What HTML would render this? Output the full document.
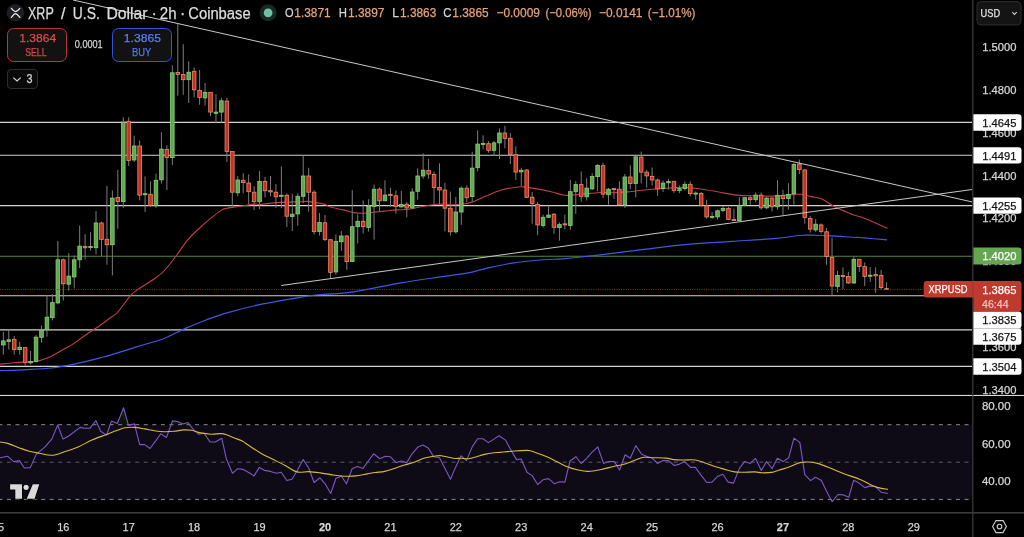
<!DOCTYPE html><html><head><meta charset="utf-8"><title>XRP / U.S. Dollar chart</title>
<style>html,body{margin:0;padding:0;background:#000;overflow:hidden;width:1024px;height:537px}svg{display:block}text{font-family:'Liberation Sans', Arial, sans-serif}</style>
</head><body>
<svg width="1024" height="537" viewBox="0 0 1024 537">
<rect x="0" y="0" width="1024" height="537" fill="#000"/>
<rect x="0" y="424.7" width="972" height="74.8" fill="#0e0b16"/>
<defs><linearGradient id="gob" x1="0" y1="0" x2="0" y2="1"><stop offset="0" stop-color="#0f2a12"/><stop offset="1" stop-color="#061208"/></linearGradient></defs>
<polygon points="92.6,424.7 95.8,420.5 97.7,424.7" fill="url(#gob)"/>
<polygon points="110.1,424.7 111.4,421.1 117.3,423.5 123.6,407.8 128.3,424.7" fill="url(#gob)"/>
<polygon points="131.3,424.7 134.4,423.9 134.6,424.7" fill="url(#gob)"/>
<polygon points="171.1,424.7 172.5,420.9 177.4,421.5 182.7,424.0 188.0,422.5 189.7,424.7" fill="url(#gob)"/>
<polygon points="830.9,499.4 832.1,501.7 834.0,499.4" fill="#1e0a0c"/>
<line x1="0" y1="424.7" x2="972" y2="424.7" stroke="#8a8a8a" stroke-width="1" stroke-dasharray="4 4.55" stroke-dashoffset="1.6"/>
<line x1="0" y1="462.2" x2="972" y2="462.2" stroke="#5a5a60" stroke-width="1" stroke-dasharray="4 4.55" stroke-dashoffset="1.6"/>
<line x1="0" y1="499.4" x2="972" y2="499.4" stroke="#8a8a8a" stroke-width="1" stroke-dasharray="4 4.55" stroke-dashoffset="1.6"/>
<line x1="0" y1="122.4" x2="972" y2="122.4" stroke="#d2d2d2" stroke-width="1.1"/>
<line x1="0" y1="155.3" x2="972" y2="155.3" stroke="#d2d2d2" stroke-width="1.1"/>
<line x1="0" y1="205.6" x2="972" y2="205.6" stroke="#d2d2d2" stroke-width="1.1"/>
<line x1="0" y1="295.8" x2="972" y2="295.8" stroke="#d2d2d2" stroke-width="1.1"/>
<line x1="0" y1="329.9" x2="972" y2="329.9" stroke="#d2d2d2" stroke-width="1.1"/>
<line x1="0" y1="366.4" x2="972" y2="366.4" stroke="#d2d2d2" stroke-width="1.1"/>
<line x1="0" y1="256.2" x2="972" y2="256.2" stroke="#4f8a3c" stroke-width="1.1"/>
<path d="M0.00,364.20 C2.28,363.97 9.83,363.15 13.70,362.80 C17.57,362.45 19.78,362.28 23.20,362.10 C26.62,361.92 31.23,362.03 34.20,361.70 C37.17,361.37 38.27,360.93 41.00,360.10 C43.73,359.27 47.18,358.30 50.60,356.70 C54.02,355.10 57.85,352.55 61.50,350.50 C65.15,348.45 69.08,346.57 72.50,344.40 C75.92,342.23 78.58,339.90 82.00,337.50 C85.42,335.10 90.00,332.00 93.00,330.00 C96.00,328.00 97.17,327.50 100.00,325.50 C102.83,323.50 107.03,320.25 110.00,318.00 C112.97,315.75 114.38,315.73 117.80,312.00 C121.22,308.27 127.12,299.40 130.50,295.60 C133.88,291.80 133.87,292.17 138.10,289.20 C142.33,286.23 151.43,281.00 155.90,277.80 C160.37,274.60 161.42,273.80 164.90,270.00 C168.38,266.20 172.97,260.05 176.80,255.00 C180.63,249.95 184.18,244.12 187.90,239.70 C191.62,235.28 195.37,232.00 199.10,228.50 C202.83,225.00 206.57,221.77 210.30,218.70 C214.03,215.63 218.72,211.83 221.50,210.10 C224.28,208.37 224.22,208.90 227.00,208.30 C229.78,207.70 233.53,207.20 238.20,206.50 C242.87,205.80 251.23,204.45 255.00,204.10 C258.77,203.75 256.77,204.68 260.80,204.40 C264.83,204.12 272.57,202.85 279.20,202.40 C285.83,201.95 296.02,201.87 300.60,201.70 C305.18,201.53 304.42,201.28 306.70,201.40 C308.98,201.52 311.25,201.90 314.30,202.40 C317.35,202.90 322.48,203.67 325.00,204.40 C327.52,205.13 326.37,205.88 329.40,206.80 C332.43,207.72 339.12,208.93 343.20,209.90 C347.28,210.87 350.33,212.05 353.90,212.60 C357.47,213.15 361.28,213.27 364.60,213.20 C367.92,213.13 370.50,212.55 373.80,212.20 C377.10,211.85 380.58,211.48 384.40,211.10 C388.22,210.72 392.63,210.20 396.70,209.90 C400.77,209.60 404.50,209.87 408.80,209.30 C413.10,208.73 417.67,207.35 422.50,206.50 C427.33,205.65 432.72,204.50 437.80,204.20 C442.88,203.90 448.42,204.77 453.00,204.70 C457.58,204.63 461.72,204.38 465.30,203.80 C468.88,203.22 470.93,202.53 474.50,201.20 C478.07,199.87 482.35,197.62 486.70,195.80 C491.05,193.98 495.75,191.73 500.60,190.30 C505.45,188.87 511.98,187.77 515.80,187.20 C519.62,186.63 520.43,186.70 523.50,186.90 C526.57,187.10 529.62,187.58 534.20,188.40 C538.78,189.22 545.92,190.67 551.00,191.80 C556.08,192.93 560.52,194.70 564.70,195.20 C568.88,195.70 571.65,195.12 576.10,194.80 C580.55,194.48 587.32,193.68 591.40,193.30 C595.48,192.92 597.03,192.58 600.60,192.50 C604.17,192.42 608.27,192.90 612.80,192.80 C617.33,192.70 622.25,192.42 627.80,191.90 C633.35,191.38 640.50,190.25 646.10,189.70 C651.70,189.15 654.92,188.98 661.40,188.60 C667.88,188.22 678.52,187.33 685.00,187.40 C691.48,187.47 694.70,188.23 700.30,189.00 C705.90,189.77 712.48,190.98 718.60,192.00 C724.72,193.02 730.63,194.47 737.00,195.10 C743.37,195.73 750.70,195.63 756.80,195.80 C762.90,195.97 767.58,196.30 773.60,196.10 C779.62,195.90 788.40,194.90 792.90,194.60 C797.40,194.30 797.53,193.97 800.60,194.30 C803.67,194.63 807.73,195.83 811.30,196.60 C814.87,197.37 818.18,197.25 822.00,198.90 C825.82,200.55 830.13,204.33 834.20,206.50 C838.27,208.67 843.13,210.48 846.40,211.90 C849.67,213.32 851.25,214.12 853.80,215.00 C856.35,215.88 857.33,215.55 861.70,217.20 C866.07,218.85 875.72,223.03 880.00,224.90 C884.28,226.77 886.17,227.82 887.40,228.40" fill="none" stroke="#c23f48" stroke-width="1.1"/>
<path d="M0.00,370.70 C4.55,370.52 18.63,370.05 27.30,369.60 C35.97,369.15 45.15,368.72 52.00,368.00 C58.85,367.28 62.48,366.43 68.40,365.30 C74.32,364.17 82.23,362.45 87.50,361.20 C92.77,359.95 96.35,358.78 100.00,357.80 C103.65,356.82 104.32,356.78 109.40,355.30 C114.48,353.82 125.40,350.50 130.50,348.90 C135.60,347.30 134.50,347.40 140.00,345.70 C145.50,344.00 156.20,341.47 163.50,338.70 C170.80,335.93 176.60,332.27 183.80,329.10 C191.00,325.93 199.50,322.42 206.70,319.70 C213.90,316.98 218.55,315.22 227.00,312.80 C235.45,310.38 246.40,307.57 257.40,305.20 C268.40,302.83 283.27,300.30 293.00,298.60 C302.73,296.90 306.30,296.05 315.80,295.00 C325.30,293.95 335.83,294.32 350.00,292.30 C364.17,290.28 385.98,285.43 400.80,282.90 C415.62,280.37 427.90,278.72 438.90,277.10 C449.90,275.48 458.77,274.68 466.80,273.20 C474.83,271.72 479.48,269.88 487.10,268.20 C494.72,266.52 503.62,264.47 512.50,263.10 C521.38,261.73 531.52,260.75 540.40,260.00 C549.28,259.25 557.33,259.30 565.80,258.60 C574.27,257.90 585.50,256.43 591.20,255.80 C596.90,255.17 591.20,255.87 600.00,254.80 C608.80,253.73 629.35,251.15 644.00,249.40 C658.65,247.65 673.27,245.63 687.90,244.30 C702.53,242.97 717.15,242.38 731.80,241.40 C746.45,240.42 764.57,239.38 775.80,238.40 C787.03,237.42 793.45,236.03 799.20,235.50 C804.95,234.97 806.38,235.20 810.30,235.20 C814.22,235.20 817.62,235.30 822.70,235.50 C827.78,235.70 836.42,236.15 840.80,236.40 C845.18,236.65 845.17,236.75 849.00,237.00 C852.83,237.25 857.45,237.42 863.80,237.90 C870.15,238.38 883.22,239.57 887.10,239.90" fill="none" stroke="#4157e3" stroke-width="1.2"/>
<rect x="2.83" y="331.9" width="1" height="22.8" fill="#7c7c7c"/>
<rect x="8.28" y="329.8" width="1" height="19.8" fill="#7c7c7c"/>
<rect x="13.73" y="336.0" width="1" height="18.7" fill="#7c7c7c"/>
<rect x="19.18" y="341.9" width="1" height="12.8" fill="#7c7c7c"/>
<rect x="24.64" y="347.6" width="1" height="18.1" fill="#7c7c7c"/>
<rect x="30.09" y="351.0" width="1" height="13.4" fill="#7c7c7c"/>
<rect x="35.54" y="335.1" width="1" height="27.3" fill="#7c7c7c"/>
<rect x="40.99" y="325.5" width="1" height="17.2" fill="#7c7c7c"/>
<rect x="46.44" y="295.2" width="1" height="41.3" fill="#7c7c7c"/>
<rect x="51.90" y="294.0" width="1" height="26.4" fill="#7c7c7c"/>
<rect x="57.35" y="241.0" width="1" height="63.4" fill="#7c7c7c"/>
<rect x="62.80" y="258.6" width="1" height="42.0" fill="#7c7c7c"/>
<rect x="68.25" y="253.2" width="1" height="37.4" fill="#7c7c7c"/>
<rect x="73.70" y="255.5" width="1" height="32.9" fill="#7c7c7c"/>
<rect x="79.16" y="225.5" width="1" height="42.5" fill="#7c7c7c"/>
<rect x="84.61" y="234.3" width="1" height="25.1" fill="#7c7c7c"/>
<rect x="90.06" y="232.2" width="1" height="18.4" fill="#7c7c7c"/>
<rect x="95.51" y="211.1" width="1" height="43.3" fill="#7c7c7c"/>
<rect x="100.96" y="221.8" width="1" height="34.2" fill="#7c7c7c"/>
<rect x="106.42" y="185.9" width="1" height="78.8" fill="#7c7c7c"/>
<rect x="111.87" y="190.5" width="1" height="84.9" fill="#7c7c7c"/>
<rect x="117.32" y="169.9" width="1" height="58.8" fill="#7c7c7c"/>
<rect x="122.77" y="117.2" width="1" height="90.6" fill="#7c7c7c"/>
<rect x="128.22" y="117.2" width="1" height="48.8" fill="#7c7c7c"/>
<rect x="133.68" y="135.6" width="1" height="26.4" fill="#7c7c7c"/>
<rect x="139.13" y="140.5" width="1" height="59.9" fill="#7c7c7c"/>
<rect x="144.58" y="176.3" width="1" height="35.6" fill="#7c7c7c"/>
<rect x="150.03" y="181.3" width="1" height="25.7" fill="#7c7c7c"/>
<rect x="155.48" y="173.7" width="1" height="34.1" fill="#7c7c7c"/>
<rect x="160.94" y="132.3" width="1" height="51.3" fill="#7c7c7c"/>
<rect x="166.39" y="145.3" width="1" height="44.7" fill="#7c7c7c"/>
<rect x="171.84" y="65.2" width="1" height="99.8" fill="#7c7c7c"/>
<rect x="177.29" y="24.0" width="1" height="71.7" fill="#7c7c7c"/>
<rect x="182.74" y="44.2" width="1" height="50.6" fill="#7c7c7c"/>
<rect x="188.20" y="61.2" width="1" height="41.8" fill="#7c7c7c"/>
<rect x="193.65" y="67.4" width="1" height="30.2" fill="#7c7c7c"/>
<rect x="199.10" y="70.0" width="1" height="34.8" fill="#7c7c7c"/>
<rect x="204.55" y="83.0" width="1" height="22.5" fill="#7c7c7c"/>
<rect x="210.00" y="92.3" width="1" height="23.8" fill="#7c7c7c"/>
<rect x="215.46" y="94.2" width="1" height="29.1" fill="#7c7c7c"/>
<rect x="220.91" y="97.8" width="1" height="24.7" fill="#7c7c7c"/>
<rect x="226.36" y="97.8" width="1" height="64.1" fill="#7c7c7c"/>
<rect x="231.81" y="151.5" width="1" height="54.8" fill="#7c7c7c"/>
<rect x="237.26" y="176.0" width="1" height="20.3" fill="#7c7c7c"/>
<rect x="242.72" y="173.2" width="1" height="20.1" fill="#7c7c7c"/>
<rect x="248.17" y="174.5" width="1" height="29.5" fill="#7c7c7c"/>
<rect x="253.62" y="186.1" width="1" height="24.0" fill="#7c7c7c"/>
<rect x="259.07" y="171.0" width="1" height="38.0" fill="#7c7c7c"/>
<rect x="264.52" y="176.9" width="1" height="20.5" fill="#7c7c7c"/>
<rect x="269.98" y="176.0" width="1" height="20.3" fill="#7c7c7c"/>
<rect x="275.43" y="184.1" width="1" height="23.7" fill="#7c7c7c"/>
<rect x="280.88" y="166.4" width="1" height="41.7" fill="#7c7c7c"/>
<rect x="286.33" y="193.3" width="1" height="33.6" fill="#7c7c7c"/>
<rect x="291.78" y="193.7" width="1" height="37.3" fill="#7c7c7c"/>
<rect x="297.24" y="193.3" width="1" height="32.5" fill="#7c7c7c"/>
<rect x="302.69" y="155.4" width="1" height="47.8" fill="#7c7c7c"/>
<rect x="308.14" y="167.8" width="1" height="43.8" fill="#7c7c7c"/>
<rect x="313.59" y="190.2" width="1" height="44.3" fill="#7c7c7c"/>
<rect x="319.04" y="213.0" width="1" height="22.6" fill="#7c7c7c"/>
<rect x="324.50" y="215.0" width="1" height="26.0" fill="#7c7c7c"/>
<rect x="329.95" y="239.7" width="1" height="38.7" fill="#7c7c7c"/>
<rect x="335.40" y="234.5" width="1" height="40.2" fill="#7c7c7c"/>
<rect x="340.85" y="231.1" width="1" height="19.6" fill="#7c7c7c"/>
<rect x="346.30" y="235.0" width="1" height="34.7" fill="#7c7c7c"/>
<rect x="351.76" y="190.2" width="1" height="71.8" fill="#7c7c7c"/>
<rect x="357.21" y="214.4" width="1" height="29.1" fill="#7c7c7c"/>
<rect x="362.66" y="200.4" width="1" height="33.1" fill="#7c7c7c"/>
<rect x="368.11" y="199.2" width="1" height="32.4" fill="#7c7c7c"/>
<rect x="373.56" y="184.4" width="1" height="55.2" fill="#7c7c7c"/>
<rect x="379.02" y="187.5" width="1" height="23.7" fill="#7c7c7c"/>
<rect x="384.47" y="180.3" width="1" height="20.7" fill="#7c7c7c"/>
<rect x="389.92" y="187.7" width="1" height="18.9" fill="#7c7c7c"/>
<rect x="395.37" y="190.5" width="1" height="23.2" fill="#7c7c7c"/>
<rect x="400.82" y="190.8" width="1" height="16.7" fill="#7c7c7c"/>
<rect x="406.28" y="202.0" width="1" height="15.3" fill="#7c7c7c"/>
<rect x="411.73" y="188.2" width="1" height="20.3" fill="#7c7c7c"/>
<rect x="417.18" y="168.3" width="1" height="31.4" fill="#7c7c7c"/>
<rect x="422.63" y="153.4" width="1" height="25.3" fill="#7c7c7c"/>
<rect x="428.08" y="158.9" width="1" height="19.8" fill="#7c7c7c"/>
<rect x="433.54" y="171.7" width="1" height="32.5" fill="#7c7c7c"/>
<rect x="438.99" y="163.4" width="1" height="40.8" fill="#7c7c7c"/>
<rect x="444.44" y="182.8" width="1" height="48.5" fill="#7c7c7c"/>
<rect x="449.89" y="191.6" width="1" height="43.9" fill="#7c7c7c"/>
<rect x="455.34" y="196.9" width="1" height="36.8" fill="#7c7c7c"/>
<rect x="460.80" y="186.4" width="1" height="38.4" fill="#7c7c7c"/>
<rect x="466.25" y="185.4" width="1" height="16.6" fill="#7c7c7c"/>
<rect x="471.70" y="151.8" width="1" height="50.2" fill="#7c7c7c"/>
<rect x="477.15" y="130.4" width="1" height="40.8" fill="#7c7c7c"/>
<rect x="482.60" y="135.3" width="1" height="14.0" fill="#7c7c7c"/>
<rect x="488.06" y="141.1" width="1" height="11.7" fill="#7c7c7c"/>
<rect x="493.51" y="141.0" width="1" height="14.9" fill="#7c7c7c"/>
<rect x="498.96" y="128.4" width="1" height="30.6" fill="#7c7c7c"/>
<rect x="504.41" y="125.8" width="1" height="22.5" fill="#7c7c7c"/>
<rect x="509.86" y="133.0" width="1" height="31.0" fill="#7c7c7c"/>
<rect x="515.32" y="146.3" width="1" height="33.6" fill="#7c7c7c"/>
<rect x="520.77" y="167.8" width="1" height="18.2" fill="#7c7c7c"/>
<rect x="526.22" y="169.0" width="1" height="29.0" fill="#7c7c7c"/>
<rect x="531.67" y="191.8" width="1" height="32.0" fill="#7c7c7c"/>
<rect x="537.12" y="202.0" width="1" height="33.3" fill="#7c7c7c"/>
<rect x="542.58" y="214.7" width="1" height="12.9" fill="#7c7c7c"/>
<rect x="548.03" y="205.5" width="1" height="12.5" fill="#7c7c7c"/>
<rect x="553.48" y="213.0" width="1" height="20.8" fill="#7c7c7c"/>
<rect x="558.93" y="222.3" width="1" height="18.3" fill="#7c7c7c"/>
<rect x="564.38" y="214.7" width="1" height="14.5" fill="#7c7c7c"/>
<rect x="569.84" y="180.0" width="1" height="49.9" fill="#7c7c7c"/>
<rect x="575.29" y="181.0" width="1" height="32.9" fill="#7c7c7c"/>
<rect x="580.74" y="171.4" width="1" height="30.3" fill="#7c7c7c"/>
<rect x="586.19" y="178.2" width="1" height="22.4" fill="#7c7c7c"/>
<rect x="591.64" y="173.2" width="1" height="17.0" fill="#7c7c7c"/>
<rect x="597.10" y="164.1" width="1" height="27.1" fill="#7c7c7c"/>
<rect x="602.55" y="162.6" width="1" height="35.6" fill="#7c7c7c"/>
<rect x="608.00" y="188.0" width="1" height="16.6" fill="#7c7c7c"/>
<rect x="613.45" y="188.0" width="1" height="10.9" fill="#7c7c7c"/>
<rect x="618.90" y="181.4" width="1" height="23.6" fill="#7c7c7c"/>
<rect x="624.36" y="174.0" width="1" height="34.0" fill="#7c7c7c"/>
<rect x="629.81" y="165.2" width="1" height="24.0" fill="#7c7c7c"/>
<rect x="635.26" y="156.5" width="1" height="40.8" fill="#7c7c7c"/>
<rect x="640.71" y="151.5" width="1" height="32.0" fill="#7c7c7c"/>
<rect x="646.16" y="169.8" width="1" height="17.9" fill="#7c7c7c"/>
<rect x="651.62" y="167.5" width="1" height="18.0" fill="#7c7c7c"/>
<rect x="657.07" y="178.5" width="1" height="17.3" fill="#7c7c7c"/>
<rect x="662.52" y="180.5" width="1" height="11.5" fill="#7c7c7c"/>
<rect x="667.97" y="179.0" width="1" height="10.7" fill="#7c7c7c"/>
<rect x="673.42" y="181.0" width="1" height="11.7" fill="#7c7c7c"/>
<rect x="678.88" y="185.5" width="1" height="7.7" fill="#7c7c7c"/>
<rect x="684.33" y="181.3" width="1" height="9.1" fill="#7c7c7c"/>
<rect x="689.78" y="181.3" width="1" height="15.0" fill="#7c7c7c"/>
<rect x="695.23" y="191.3" width="1" height="8.4" fill="#7c7c7c"/>
<rect x="700.68" y="192.0" width="1" height="14.5" fill="#7c7c7c"/>
<rect x="706.14" y="199.7" width="1" height="19.1" fill="#7c7c7c"/>
<rect x="711.59" y="211.9" width="1" height="6.9" fill="#7c7c7c"/>
<rect x="717.04" y="209.6" width="1" height="9.9" fill="#7c7c7c"/>
<rect x="722.49" y="205.8" width="1" height="6.1" fill="#7c7c7c"/>
<rect x="727.94" y="207.0" width="1" height="13.0" fill="#7c7c7c"/>
<rect x="733.40" y="208.8" width="1" height="12.2" fill="#7c7c7c"/>
<rect x="738.85" y="197.1" width="1" height="23.9" fill="#7c7c7c"/>
<rect x="744.30" y="197.0" width="1" height="8.5" fill="#7c7c7c"/>
<rect x="749.75" y="195.8" width="1" height="8.9" fill="#7c7c7c"/>
<rect x="755.20" y="192.5" width="1" height="9.8" fill="#7c7c7c"/>
<rect x="760.66" y="192.5" width="1" height="17.1" fill="#7c7c7c"/>
<rect x="766.11" y="197.0" width="1" height="12.3" fill="#7c7c7c"/>
<rect x="771.56" y="197.1" width="1" height="14.3" fill="#7c7c7c"/>
<rect x="777.01" y="180.3" width="1" height="29.3" fill="#7c7c7c"/>
<rect x="782.46" y="190.0" width="1" height="25.3" fill="#7c7c7c"/>
<rect x="787.92" y="183.3" width="1" height="26.3" fill="#7c7c7c"/>
<rect x="793.37" y="163.0" width="1" height="41.5" fill="#7c7c7c"/>
<rect x="798.82" y="159.5" width="1" height="14.6" fill="#7c7c7c"/>
<rect x="804.27" y="169.0" width="1" height="54.6" fill="#7c7c7c"/>
<rect x="809.72" y="215.8" width="1" height="16.8" fill="#7c7c7c"/>
<rect x="815.18" y="219.2" width="1" height="12.6" fill="#7c7c7c"/>
<rect x="820.63" y="223.4" width="1" height="9.9" fill="#7c7c7c"/>
<rect x="826.08" y="228.0" width="1" height="36.7" fill="#7c7c7c"/>
<rect x="831.53" y="237.6" width="1" height="57.6" fill="#7c7c7c"/>
<rect x="836.98" y="270.8" width="1" height="21.4" fill="#7c7c7c"/>
<rect x="842.44" y="267.3" width="1" height="21.8" fill="#7c7c7c"/>
<rect x="847.89" y="271.8" width="1" height="12.0" fill="#7c7c7c"/>
<rect x="853.34" y="256.6" width="1" height="26.9" fill="#7c7c7c"/>
<rect x="858.79" y="259.0" width="1" height="12.8" fill="#7c7c7c"/>
<rect x="864.24" y="262.4" width="1" height="23.6" fill="#7c7c7c"/>
<rect x="869.70" y="267.0" width="1" height="14.9" fill="#7c7c7c"/>
<rect x="875.15" y="267.3" width="1" height="25.6" fill="#7c7c7c"/>
<rect x="880.60" y="270.0" width="1" height="19.9" fill="#7c7c7c"/>
<rect x="886.05" y="282.2" width="1" height="7.8" fill="#7c7c7c"/>
<rect x="1.53" y="340.9" width="3.6" height="4.0" fill="#63a656" stroke="#86d26e" stroke-width="0.8"/>
<rect x="6.98" y="339.8" width="3.6" height="1.8" fill="#63a656" stroke="#86d26e" stroke-width="0.8"/>
<rect x="12.43" y="339.3" width="3.6" height="10.3" fill="#c0322a" stroke="#ee8a62" stroke-width="0.8"/>
<rect x="17.88" y="347.2" width="3.6" height="2.4" fill="#63a656" stroke="#86d26e" stroke-width="0.8"/>
<rect x="23.34" y="347.6" width="3.6" height="14.8" fill="#c0322a" stroke="#ee8a62" stroke-width="0.8"/>
<rect x="28.79" y="361.4" width="3.6" height="1.4" fill="#63a656" stroke="#86d26e" stroke-width="0.8"/>
<rect x="34.24" y="337.2" width="3.6" height="24.2" fill="#63a656" stroke="#86d26e" stroke-width="0.8"/>
<rect x="39.69" y="330.2" width="3.6" height="7.1" fill="#63a656" stroke="#86d26e" stroke-width="0.8"/>
<rect x="45.14" y="317.2" width="3.6" height="12.6" fill="#63a656" stroke="#86d26e" stroke-width="0.8"/>
<rect x="50.60" y="302.6" width="3.6" height="15.1" fill="#63a656" stroke="#86d26e" stroke-width="0.8"/>
<rect x="56.05" y="259.8" width="3.6" height="43.1" fill="#63a656" stroke="#86d26e" stroke-width="0.8"/>
<rect x="61.50" y="259.8" width="3.6" height="24.0" fill="#c0322a" stroke="#ee8a62" stroke-width="0.8"/>
<rect x="66.95" y="276.1" width="3.6" height="8.1" fill="#63a656" stroke="#86d26e" stroke-width="0.8"/>
<rect x="72.40" y="259.8" width="3.6" height="17.1" fill="#63a656" stroke="#86d26e" stroke-width="0.8"/>
<rect x="77.86" y="246.1" width="3.6" height="13.7" fill="#63a656" stroke="#86d26e" stroke-width="0.8"/>
<rect x="83.31" y="246.4" width="3.6" height="1.4" fill="#c0322a" stroke="#ee8a62" stroke-width="0.8"/>
<rect x="88.76" y="246.5" width="3.6" height="1.0" fill="#63a656" stroke="#86d26e" stroke-width="0.8"/>
<rect x="94.21" y="223.0" width="3.6" height="24.7" fill="#63a656" stroke="#86d26e" stroke-width="0.8"/>
<rect x="99.66" y="223.0" width="3.6" height="16.5" fill="#c0322a" stroke="#ee8a62" stroke-width="0.8"/>
<rect x="105.12" y="239.3" width="3.6" height="5.4" fill="#c0322a" stroke="#ee8a62" stroke-width="0.8"/>
<rect x="110.57" y="198.1" width="3.6" height="46.6" fill="#63a656" stroke="#86d26e" stroke-width="0.8"/>
<rect x="116.02" y="197.4" width="3.6" height="4.2" fill="#c0322a" stroke="#ee8a62" stroke-width="0.8"/>
<rect x="121.47" y="122.1" width="3.6" height="79.5" fill="#63a656" stroke="#86d26e" stroke-width="0.8"/>
<rect x="126.92" y="121.3" width="3.6" height="39.1" fill="#c0322a" stroke="#ee8a62" stroke-width="0.8"/>
<rect x="132.38" y="146.0" width="3.6" height="14.0" fill="#63a656" stroke="#86d26e" stroke-width="0.8"/>
<rect x="137.83" y="146.0" width="3.6" height="49.1" fill="#c0322a" stroke="#ee8a62" stroke-width="0.8"/>
<rect x="143.28" y="193.7" width="3.6" height="1.0" fill="#63a656" stroke="#86d26e" stroke-width="0.8"/>
<rect x="148.73" y="194.3" width="3.6" height="11.0" fill="#c0322a" stroke="#ee8a62" stroke-width="0.8"/>
<rect x="154.18" y="180.3" width="3.6" height="25.5" fill="#63a656" stroke="#86d26e" stroke-width="0.8"/>
<rect x="159.64" y="149.1" width="3.6" height="30.7" fill="#63a656" stroke="#86d26e" stroke-width="0.8"/>
<rect x="165.09" y="149.4" width="3.6" height="8.2" fill="#c0322a" stroke="#ee8a62" stroke-width="0.8"/>
<rect x="170.54" y="72.8" width="3.6" height="84.8" fill="#63a656" stroke="#86d26e" stroke-width="0.8"/>
<rect x="175.99" y="72.4" width="3.6" height="2.0" fill="#c0322a" stroke="#ee8a62" stroke-width="0.8"/>
<rect x="181.44" y="74.4" width="3.6" height="5.3" fill="#c0322a" stroke="#ee8a62" stroke-width="0.8"/>
<rect x="186.90" y="72.2" width="3.6" height="7.5" fill="#63a656" stroke="#86d26e" stroke-width="0.8"/>
<rect x="192.35" y="71.3" width="3.6" height="18.5" fill="#c0322a" stroke="#ee8a62" stroke-width="0.8"/>
<rect x="197.80" y="90.5" width="3.6" height="6.9" fill="#c0322a" stroke="#ee8a62" stroke-width="0.8"/>
<rect x="203.25" y="92.3" width="3.6" height="5.6" fill="#63a656" stroke="#86d26e" stroke-width="0.8"/>
<rect x="208.70" y="92.3" width="3.6" height="19.8" fill="#c0322a" stroke="#ee8a62" stroke-width="0.8"/>
<rect x="214.16" y="112.1" width="3.6" height="1.2" fill="#63a656" stroke="#86d26e" stroke-width="0.8"/>
<rect x="219.61" y="100.8" width="3.6" height="11.3" fill="#63a656" stroke="#86d26e" stroke-width="0.8"/>
<rect x="225.06" y="101.1" width="3.6" height="50.4" fill="#c0322a" stroke="#ee8a62" stroke-width="0.8"/>
<rect x="230.51" y="151.5" width="3.6" height="40.7" fill="#c0322a" stroke="#ee8a62" stroke-width="0.8"/>
<rect x="235.96" y="180.0" width="3.6" height="12.8" fill="#63a656" stroke="#86d26e" stroke-width="0.8"/>
<rect x="241.42" y="180.3" width="3.6" height="2.3" fill="#c0322a" stroke="#ee8a62" stroke-width="0.8"/>
<rect x="246.87" y="183.0" width="3.6" height="8.7" fill="#c0322a" stroke="#ee8a62" stroke-width="0.8"/>
<rect x="252.32" y="192.2" width="3.6" height="9.5" fill="#c0322a" stroke="#ee8a62" stroke-width="0.8"/>
<rect x="257.77" y="181.5" width="3.6" height="20.2" fill="#63a656" stroke="#86d26e" stroke-width="0.8"/>
<rect x="263.22" y="181.5" width="3.6" height="9.2" fill="#c0322a" stroke="#ee8a62" stroke-width="0.8"/>
<rect x="268.68" y="190.7" width="3.6" height="1.2" fill="#c0322a" stroke="#ee8a62" stroke-width="0.8"/>
<rect x="274.13" y="192.2" width="3.6" height="4.6" fill="#c0322a" stroke="#ee8a62" stroke-width="0.8"/>
<rect x="279.58" y="195.3" width="3.6" height="1.0" fill="#63a656" stroke="#86d26e" stroke-width="0.8"/>
<rect x="285.03" y="195.3" width="3.6" height="20.9" fill="#c0322a" stroke="#ee8a62" stroke-width="0.8"/>
<rect x="290.48" y="214.2" width="3.6" height="2.4" fill="#63a656" stroke="#86d26e" stroke-width="0.8"/>
<rect x="295.94" y="196.3" width="3.6" height="17.6" fill="#63a656" stroke="#86d26e" stroke-width="0.8"/>
<rect x="301.39" y="176.0" width="3.6" height="20.3" fill="#63a656" stroke="#86d26e" stroke-width="0.8"/>
<rect x="306.84" y="176.0" width="3.6" height="16.2" fill="#c0322a" stroke="#ee8a62" stroke-width="0.8"/>
<rect x="312.29" y="192.2" width="3.6" height="39.5" fill="#c0322a" stroke="#ee8a62" stroke-width="0.8"/>
<rect x="317.74" y="222.4" width="3.6" height="9.2" fill="#63a656" stroke="#86d26e" stroke-width="0.8"/>
<rect x="323.20" y="222.8" width="3.6" height="16.7" fill="#c0322a" stroke="#ee8a62" stroke-width="0.8"/>
<rect x="328.65" y="239.7" width="3.6" height="32.8" fill="#c0322a" stroke="#ee8a62" stroke-width="0.8"/>
<rect x="334.10" y="241.5" width="3.6" height="30.4" fill="#63a656" stroke="#86d26e" stroke-width="0.8"/>
<rect x="339.55" y="236.0" width="3.6" height="5.7" fill="#63a656" stroke="#86d26e" stroke-width="0.8"/>
<rect x="345.00" y="236.0" width="3.6" height="25.6" fill="#c0322a" stroke="#ee8a62" stroke-width="0.8"/>
<rect x="350.46" y="226.7" width="3.6" height="34.9" fill="#63a656" stroke="#86d26e" stroke-width="0.8"/>
<rect x="355.91" y="221.3" width="3.6" height="5.4" fill="#63a656" stroke="#86d26e" stroke-width="0.8"/>
<rect x="361.36" y="221.3" width="3.6" height="5.4" fill="#c0322a" stroke="#ee8a62" stroke-width="0.8"/>
<rect x="366.81" y="206.0" width="3.6" height="21.4" fill="#63a656" stroke="#86d26e" stroke-width="0.8"/>
<rect x="372.26" y="189.2" width="3.6" height="17.4" fill="#63a656" stroke="#86d26e" stroke-width="0.8"/>
<rect x="377.72" y="189.2" width="3.6" height="11.6" fill="#c0322a" stroke="#ee8a62" stroke-width="0.8"/>
<rect x="383.17" y="195.1" width="3.6" height="5.7" fill="#63a656" stroke="#86d26e" stroke-width="0.8"/>
<rect x="388.62" y="194.4" width="3.6" height="1.0" fill="#c0322a" stroke="#ee8a62" stroke-width="0.8"/>
<rect x="394.07" y="195.8" width="3.6" height="10.7" fill="#c0322a" stroke="#ee8a62" stroke-width="0.8"/>
<rect x="399.52" y="204.4" width="3.6" height="2.5" fill="#63a656" stroke="#86d26e" stroke-width="0.8"/>
<rect x="404.98" y="204.2" width="3.6" height="3.8" fill="#c0322a" stroke="#ee8a62" stroke-width="0.8"/>
<rect x="410.43" y="192.0" width="3.6" height="16.0" fill="#63a656" stroke="#86d26e" stroke-width="0.8"/>
<rect x="415.88" y="176.0" width="3.6" height="15.3" fill="#63a656" stroke="#86d26e" stroke-width="0.8"/>
<rect x="421.33" y="170.2" width="3.6" height="5.8" fill="#63a656" stroke="#86d26e" stroke-width="0.8"/>
<rect x="426.78" y="170.6" width="3.6" height="3.5" fill="#c0322a" stroke="#ee8a62" stroke-width="0.8"/>
<rect x="432.24" y="174.4" width="3.6" height="13.0" fill="#c0322a" stroke="#ee8a62" stroke-width="0.8"/>
<rect x="437.69" y="187.4" width="3.6" height="2.6" fill="#c0322a" stroke="#ee8a62" stroke-width="0.8"/>
<rect x="443.14" y="190.0" width="3.6" height="18.2" fill="#c0322a" stroke="#ee8a62" stroke-width="0.8"/>
<rect x="448.59" y="208.2" width="3.6" height="23.6" fill="#c0322a" stroke="#ee8a62" stroke-width="0.8"/>
<rect x="454.04" y="212.0" width="3.6" height="19.8" fill="#63a656" stroke="#86d26e" stroke-width="0.8"/>
<rect x="459.50" y="188.2" width="3.6" height="23.8" fill="#63a656" stroke="#86d26e" stroke-width="0.8"/>
<rect x="464.95" y="188.2" width="3.6" height="9.5" fill="#c0322a" stroke="#ee8a62" stroke-width="0.8"/>
<rect x="470.40" y="168.1" width="3.6" height="28.5" fill="#63a656" stroke="#86d26e" stroke-width="0.8"/>
<rect x="475.85" y="144.1" width="3.6" height="23.6" fill="#63a656" stroke="#86d26e" stroke-width="0.8"/>
<rect x="481.30" y="143.5" width="3.6" height="1.0" fill="#63a656" stroke="#86d26e" stroke-width="0.8"/>
<rect x="486.76" y="143.7" width="3.6" height="6.6" fill="#c0322a" stroke="#ee8a62" stroke-width="0.8"/>
<rect x="492.21" y="142.9" width="3.6" height="7.4" fill="#63a656" stroke="#86d26e" stroke-width="0.8"/>
<rect x="497.66" y="133.0" width="3.6" height="9.9" fill="#63a656" stroke="#86d26e" stroke-width="0.8"/>
<rect x="503.11" y="133.0" width="3.6" height="5.3" fill="#c0322a" stroke="#ee8a62" stroke-width="0.8"/>
<rect x="508.56" y="138.3" width="3.6" height="16.1" fill="#c0322a" stroke="#ee8a62" stroke-width="0.8"/>
<rect x="514.02" y="154.4" width="3.6" height="17.6" fill="#c0322a" stroke="#ee8a62" stroke-width="0.8"/>
<rect x="519.47" y="170.3" width="3.6" height="1.6" fill="#63a656" stroke="#86d26e" stroke-width="0.8"/>
<rect x="524.92" y="170.0" width="3.6" height="27.3" fill="#c0322a" stroke="#ee8a62" stroke-width="0.8"/>
<rect x="530.37" y="197.2" width="3.6" height="6.3" fill="#c0322a" stroke="#ee8a62" stroke-width="0.8"/>
<rect x="535.82" y="204.4" width="3.6" height="20.5" fill="#c0322a" stroke="#ee8a62" stroke-width="0.8"/>
<rect x="541.28" y="217.3" width="3.6" height="8.1" fill="#63a656" stroke="#86d26e" stroke-width="0.8"/>
<rect x="546.73" y="215.1" width="3.6" height="2.2" fill="#63a656" stroke="#86d26e" stroke-width="0.8"/>
<rect x="552.18" y="214.2" width="3.6" height="13.1" fill="#c0322a" stroke="#ee8a62" stroke-width="0.8"/>
<rect x="557.63" y="224.6" width="3.6" height="3.0" fill="#63a656" stroke="#86d26e" stroke-width="0.8"/>
<rect x="563.08" y="223.8" width="3.6" height="1.0" fill="#c0322a" stroke="#ee8a62" stroke-width="0.8"/>
<rect x="568.54" y="191.7" width="3.6" height="33.7" fill="#63a656" stroke="#86d26e" stroke-width="0.8"/>
<rect x="573.99" y="184.6" width="3.6" height="7.1" fill="#63a656" stroke="#86d26e" stroke-width="0.8"/>
<rect x="579.44" y="184.6" width="3.6" height="11.7" fill="#c0322a" stroke="#ee8a62" stroke-width="0.8"/>
<rect x="584.89" y="188.1" width="3.6" height="8.7" fill="#63a656" stroke="#86d26e" stroke-width="0.8"/>
<rect x="590.34" y="176.4" width="3.6" height="12.4" fill="#63a656" stroke="#86d26e" stroke-width="0.8"/>
<rect x="595.80" y="165.5" width="3.6" height="11.1" fill="#63a656" stroke="#86d26e" stroke-width="0.8"/>
<rect x="601.25" y="165.7" width="3.6" height="28.4" fill="#c0322a" stroke="#ee8a62" stroke-width="0.8"/>
<rect x="606.70" y="189.2" width="3.6" height="5.5" fill="#63a656" stroke="#86d26e" stroke-width="0.8"/>
<rect x="612.15" y="188.6" width="3.6" height="1.0" fill="#c0322a" stroke="#ee8a62" stroke-width="0.8"/>
<rect x="617.60" y="189.2" width="3.6" height="15.7" fill="#c0322a" stroke="#ee8a62" stroke-width="0.8"/>
<rect x="623.06" y="177.0" width="3.6" height="27.9" fill="#63a656" stroke="#86d26e" stroke-width="0.8"/>
<rect x="628.51" y="177.0" width="3.6" height="6.5" fill="#c0322a" stroke="#ee8a62" stroke-width="0.8"/>
<rect x="633.96" y="156.8" width="3.6" height="26.7" fill="#63a656" stroke="#86d26e" stroke-width="0.8"/>
<rect x="639.41" y="157.1" width="3.6" height="15.0" fill="#c0322a" stroke="#ee8a62" stroke-width="0.8"/>
<rect x="644.86" y="172.1" width="3.6" height="3.8" fill="#c0322a" stroke="#ee8a62" stroke-width="0.8"/>
<rect x="650.32" y="176.4" width="3.6" height="3.6" fill="#c0322a" stroke="#ee8a62" stroke-width="0.8"/>
<rect x="655.77" y="180.0" width="3.6" height="8.9" fill="#c0322a" stroke="#ee8a62" stroke-width="0.8"/>
<rect x="661.22" y="183.1" width="3.6" height="5.5" fill="#63a656" stroke="#86d26e" stroke-width="0.8"/>
<rect x="666.67" y="181.6" width="3.6" height="1.2" fill="#63a656" stroke="#86d26e" stroke-width="0.8"/>
<rect x="672.12" y="181.3" width="3.6" height="9.1" fill="#c0322a" stroke="#ee8a62" stroke-width="0.8"/>
<rect x="677.58" y="188.6" width="3.6" height="1.8" fill="#63a656" stroke="#86d26e" stroke-width="0.8"/>
<rect x="683.03" y="184.3" width="3.6" height="4.3" fill="#63a656" stroke="#86d26e" stroke-width="0.8"/>
<rect x="688.48" y="184.3" width="3.6" height="9.4" fill="#c0322a" stroke="#ee8a62" stroke-width="0.8"/>
<rect x="693.93" y="193.1" width="3.6" height="1.0" fill="#63a656" stroke="#86d26e" stroke-width="0.8"/>
<rect x="699.38" y="193.5" width="3.6" height="11.8" fill="#c0322a" stroke="#ee8a62" stroke-width="0.8"/>
<rect x="704.84" y="205.8" width="3.6" height="11.1" fill="#c0322a" stroke="#ee8a62" stroke-width="0.8"/>
<rect x="710.29" y="216.5" width="3.6" height="1.0" fill="#63a656" stroke="#86d26e" stroke-width="0.8"/>
<rect x="715.74" y="210.8" width="3.6" height="6.1" fill="#63a656" stroke="#86d26e" stroke-width="0.8"/>
<rect x="721.19" y="208.4" width="3.6" height="2.0" fill="#63a656" stroke="#86d26e" stroke-width="0.8"/>
<rect x="726.64" y="208.4" width="3.6" height="11.1" fill="#c0322a" stroke="#ee8a62" stroke-width="0.8"/>
<rect x="732.10" y="219.5" width="3.6" height="1.1" fill="#c0322a" stroke="#ee8a62" stroke-width="0.8"/>
<rect x="737.55" y="205.3" width="3.6" height="15.3" fill="#63a656" stroke="#86d26e" stroke-width="0.8"/>
<rect x="743.00" y="197.7" width="3.6" height="7.6" fill="#63a656" stroke="#86d26e" stroke-width="0.8"/>
<rect x="748.45" y="197.7" width="3.6" height="2.0" fill="#c0322a" stroke="#ee8a62" stroke-width="0.8"/>
<rect x="753.90" y="195.1" width="3.6" height="4.6" fill="#63a656" stroke="#86d26e" stroke-width="0.8"/>
<rect x="759.36" y="195.1" width="3.6" height="12.7" fill="#c0322a" stroke="#ee8a62" stroke-width="0.8"/>
<rect x="764.81" y="198.1" width="3.6" height="9.7" fill="#63a656" stroke="#86d26e" stroke-width="0.8"/>
<rect x="770.26" y="198.1" width="3.6" height="8.7" fill="#c0322a" stroke="#ee8a62" stroke-width="0.8"/>
<rect x="775.71" y="195.3" width="3.6" height="11.5" fill="#63a656" stroke="#86d26e" stroke-width="0.8"/>
<rect x="781.16" y="195.3" width="3.6" height="3.3" fill="#c0322a" stroke="#ee8a62" stroke-width="0.8"/>
<rect x="786.62" y="194.4" width="3.6" height="4.2" fill="#63a656" stroke="#86d26e" stroke-width="0.8"/>
<rect x="792.07" y="164.5" width="3.6" height="29.3" fill="#63a656" stroke="#86d26e" stroke-width="0.8"/>
<rect x="797.52" y="164.1" width="3.6" height="5.5" fill="#c0322a" stroke="#ee8a62" stroke-width="0.8"/>
<rect x="802.97" y="169.9" width="3.6" height="47.7" fill="#c0322a" stroke="#ee8a62" stroke-width="0.8"/>
<rect x="808.42" y="218.4" width="3.6" height="10.7" fill="#c0322a" stroke="#ee8a62" stroke-width="0.8"/>
<rect x="813.88" y="224.2" width="3.6" height="5.7" fill="#63a656" stroke="#86d26e" stroke-width="0.8"/>
<rect x="819.33" y="224.9" width="3.6" height="6.6" fill="#c0322a" stroke="#ee8a62" stroke-width="0.8"/>
<rect x="824.78" y="231.8" width="3.6" height="24.8" fill="#c0322a" stroke="#ee8a62" stroke-width="0.8"/>
<rect x="830.23" y="257.5" width="3.6" height="28.5" fill="#c0322a" stroke="#ee8a62" stroke-width="0.8"/>
<rect x="835.68" y="275.4" width="3.6" height="11.1" fill="#63a656" stroke="#86d26e" stroke-width="0.8"/>
<rect x="841.14" y="275.4" width="3.6" height="1.0" fill="#c0322a" stroke="#ee8a62" stroke-width="0.8"/>
<rect x="846.59" y="276.4" width="3.6" height="6.6" fill="#c0322a" stroke="#ee8a62" stroke-width="0.8"/>
<rect x="852.04" y="259.3" width="3.6" height="23.7" fill="#63a656" stroke="#86d26e" stroke-width="0.8"/>
<rect x="857.49" y="259.3" width="3.6" height="7.3" fill="#c0322a" stroke="#ee8a62" stroke-width="0.8"/>
<rect x="862.94" y="266.6" width="3.6" height="9.8" fill="#c0322a" stroke="#ee8a62" stroke-width="0.8"/>
<rect x="868.40" y="275.2" width="3.6" height="1.0" fill="#63a656" stroke="#86d26e" stroke-width="0.8"/>
<rect x="873.85" y="274.6" width="3.6" height="1.2" fill="#c0322a" stroke="#ee8a62" stroke-width="0.8"/>
<rect x="879.30" y="275.4" width="3.6" height="12.2" fill="#c0322a" stroke="#ee8a62" stroke-width="0.8"/>
<rect x="884.75" y="288.6" width="3.6" height="1.0" fill="#c0322a" stroke="#ee8a62" stroke-width="0.8"/>
<line x1="73" y1="0" x2="972" y2="201.9" stroke="#c8c8c8" stroke-width="1"/>
<line x1="281.2" y1="285.5" x2="972" y2="189.5" stroke="#c8c8c8" stroke-width="1"/>
<line x1="0" y1="289.5" x2="923" y2="289.5" stroke="#962a22" stroke-width="1" stroke-dasharray="1 1.3"/>
<polyline points="0.0,457.7 7.8,456.3 13.7,461.6 19.5,460.6 24.4,468.0 30.3,467.6 36.2,454.4 45.0,446.9 51.8,439.1 57.7,425.0 63.0,439.1 68.4,436.2 80.2,427.4 84.1,428.3 89.9,428.3 95.8,420.5 100.7,431.3 106.5,435.2 111.4,421.1 117.3,423.5 123.6,407.8 128.5,425.4 134.4,423.9 139.7,444.6 144.6,444.6 150.0,448.5 155.3,441.4 160.8,433.8 166.4,437.5 172.5,420.9 177.4,421.5 182.7,424.0 188.0,422.5 193.4,429.7 198.9,434.2 204.2,433.2 210.0,442.0 215.3,442.0 221.8,438.3 226.3,458.7 232.5,473.3 237.4,468.8 243.3,469.4 249.1,472.7 254.0,475.9 259.4,467.4 264.7,470.4 270.5,471.4 276.4,473.3 281.3,472.3 286.8,480.5 292.0,479.2 297.5,470.0 303.2,459.6 308.7,468.0 314.1,482.5 320.0,477.8 325.3,484.1 330.7,493.5 336.0,478.2 341.5,476.2 346.4,483.7 352.1,468.8 357.5,466.5 363.0,468.4 368.3,461.0 373.6,453.8 379.9,458.7 385.2,456.3 390.2,456.7 396.1,462.6 401.4,461.0 406.7,462.6 412.1,453.8 417.6,447.3 422.9,445.0 428.2,447.9 433.7,456.7 439.5,457.7 445.0,468.4 450.5,479.2 455.5,467.4 461.0,455.7 466.5,460.6 472.2,446.9 477.6,438.7 482.9,438.7 488.4,442.6 493.9,439.1 499.1,435.8 505.5,440.1 510.8,449.9 516.6,459.6 521.1,459.0 527.0,472.3 532.3,475.9 537.7,484.5 543.0,479.8 548.5,478.6 554.3,483.7 559.6,481.7 564.9,482.1 570.0,461.0 575.9,456.7 581.1,463.5 586.4,458.7 591.9,452.4 597.8,446.9 603.6,463.5 608.5,461.6 614.4,461.6 619.6,470.0 625.1,454.7 630.3,458.3 635.8,445.6 641.6,454.3 646.5,456.3 652.4,458.3 657.6,463.5 663.1,460.6 668.4,460.6 674.3,465.5 679.4,464.1 684.6,461.6 690.5,467.4 695.4,467.4 701.2,475.3 706.7,482.5 712.0,482.1 717.3,476.6 722.8,474.3 728.2,482.1 733.5,483.1 739.4,468.4 744.6,461.6 750.1,463.5 755.5,458.3 761.3,470.4 766.6,461.6 772.1,468.5 777.4,458.3 783.2,461.6 788.7,457.7 794.0,438.1 799.9,442.6 804.8,474.7 810.6,480.6 815.5,477.3 821.4,480.6 826.7,491.5 832.1,501.7 838.0,494.5 843.5,494.9 848.8,497.2 853.7,480.2 859.1,483.1 864.8,487.6 869.7,486.1 875.2,486.4 881.4,492.3 887.9,493.5" fill="none" stroke="#7e57c2" stroke-width="1.1" stroke-linejoin="round"/>
<path d="M0.00,442.00 C1.30,442.23 4.55,442.42 7.80,443.40 C11.05,444.38 15.92,446.60 19.50,447.90 C23.08,449.20 26.03,450.32 29.30,451.20 C32.57,452.08 35.35,452.52 39.10,453.20 C42.85,453.88 47.57,455.53 51.80,455.30 C56.03,455.07 60.10,453.20 64.50,451.80 C68.90,450.40 73.63,448.85 78.20,446.90 C82.77,444.95 87.33,442.12 91.90,440.10 C96.47,438.08 101.37,436.43 105.60,434.80 C109.83,433.17 114.07,431.47 117.30,430.30 C120.53,429.13 122.08,428.28 125.00,427.80 C127.92,427.32 131.53,427.22 134.80,427.40 C138.07,427.58 141.35,428.35 144.60,428.90 C147.85,429.45 151.05,430.23 154.30,430.70 C157.55,431.17 160.83,431.60 164.10,431.70 C167.37,431.80 170.63,431.60 173.90,431.30 C177.17,431.00 180.77,430.07 183.70,429.90 C186.63,429.73 188.90,429.85 191.50,430.30 C194.10,430.75 196.05,431.95 199.30,432.60 C202.55,433.25 207.42,434.03 211.00,434.20 C214.58,434.37 218.18,433.50 220.80,433.60 C223.42,433.70 224.42,434.05 226.70,434.80 C228.98,435.55 231.90,437.05 234.50,438.10 C237.10,439.15 239.72,439.73 242.30,441.10 C244.88,442.47 246.77,444.18 250.00,446.30 C253.23,448.42 257.78,451.58 261.70,453.80 C265.62,456.02 269.58,457.65 273.50,459.60 C277.42,461.55 281.30,463.45 285.20,465.50 C289.10,467.55 292.98,470.88 296.90,471.90 C300.82,472.92 304.78,471.43 308.70,471.60 C312.62,471.77 316.50,472.35 320.40,472.90 C324.30,473.45 328.20,474.35 332.10,474.90 C336.00,475.45 339.88,476.03 343.80,476.20 C347.72,476.37 351.68,476.28 355.60,475.90 C359.52,475.52 364.05,474.47 367.30,473.90 C370.55,473.33 372.18,472.92 375.10,472.50 C378.02,472.08 381.55,472.08 384.80,471.40 C388.05,470.72 391.35,469.45 394.60,468.40 C397.85,467.35 401.05,466.13 404.30,465.10 C407.55,464.07 410.83,463.33 414.10,462.20 C417.37,461.07 420.63,459.28 423.90,458.30 C427.17,457.32 430.77,456.73 433.70,456.30 C436.63,455.87 438.25,455.37 441.50,455.70 C444.75,456.03 449.95,457.87 453.20,458.30 C456.45,458.73 458.40,458.23 461.00,458.30 C463.60,458.37 466.18,458.97 468.80,458.70 C471.42,458.43 474.08,457.42 476.70,456.70 C479.32,455.98 481.57,455.05 484.50,454.40 C487.43,453.75 491.72,453.13 494.30,452.80 C496.88,452.47 497.10,452.67 500.00,452.40 C502.90,452.13 507.13,451.53 511.70,451.20 C516.27,450.87 523.48,450.20 527.40,450.40 C531.32,450.60 531.95,451.35 535.20,452.40 C538.45,453.45 543.32,455.17 546.90,456.70 C550.48,458.23 553.43,459.97 556.70,461.60 C559.97,463.23 562.92,465.10 566.50,466.50 C570.08,467.90 574.62,469.18 578.20,470.00 C581.78,470.82 584.08,471.50 588.00,471.40 C591.92,471.30 597.47,470.22 601.70,469.40 C605.93,468.58 609.82,467.32 613.40,466.50 C616.98,465.68 620.43,465.22 623.20,464.50 C625.97,463.78 628.07,462.92 630.00,462.20 C631.93,461.48 632.53,461.02 634.80,460.20 C637.07,459.38 640.35,457.72 643.60,457.30 C646.85,456.88 650.55,457.57 654.30,457.70 C658.05,457.83 662.83,457.78 666.10,458.10 C669.37,458.42 670.97,459.28 673.90,459.60 C676.83,459.92 680.12,459.93 683.70,460.00 C687.28,460.07 691.82,459.50 695.40,460.00 C698.98,460.50 701.95,461.92 705.20,463.00 C708.45,464.08 711.65,465.43 714.90,466.50 C718.15,467.57 721.43,468.50 724.70,469.40 C727.97,470.30 731.57,471.42 734.50,471.90 C737.43,472.38 738.88,472.30 742.30,472.30 C745.72,472.30 751.77,471.82 755.00,471.90 C758.23,471.98 758.95,472.72 761.70,472.80 C764.45,472.88 768.57,472.87 771.50,472.40 C774.43,471.93 776.37,470.88 779.30,470.00 C782.23,469.12 785.67,468.33 789.10,467.10 C792.53,465.87 796.63,463.45 799.90,462.60 C803.17,461.75 805.60,461.83 808.70,462.00 C811.80,462.17 814.60,462.47 818.50,463.60 C822.40,464.73 827.87,467.12 832.10,468.80 C836.33,470.48 839.33,471.97 843.90,473.70 C848.47,475.43 855.27,477.47 859.50,479.20 C863.73,480.93 866.37,482.73 869.30,484.10 C872.23,485.47 874.00,486.52 877.10,487.40 C880.20,488.28 886.10,489.07 887.90,489.40" fill="none" stroke="#d9b93b" stroke-width="1.1"/>
<g fill="#d9d9d9" stroke="#000" stroke-width="1.6" paint-order="stroke" stroke-linejoin="round"><path d="M10.1,484.3 H22 V498.8 H15.3 V489.5 H10.1 Z"/><circle cx="26.1" cy="487.3" r="2.6"/><path d="M32.8,484.3 H39.3 L34.6,498.8 H26.7 Z"/></g>
<rect x="0" y="394.9" width="1024" height="1.1" fill="#d8dae0"/>
<rect x="0" y="512" width="1024" height="1.6" fill="#3c3c3c"/>
<rect x="972.2" y="0" width="1.2" height="537" fill="#3e3e3e"/>
<text x="1016.4" y="51.2" font-size="11" fill="#d6d6d6" text-anchor="end" font-weight="normal" textLength="34.2" lengthAdjust="spacingAndGlyphs" stroke="#d6d6d6" stroke-width="0.25">1.5000</text>
<text x="1016.4" y="94.0" font-size="11" fill="#d6d6d6" text-anchor="end" font-weight="normal" textLength="34.2" lengthAdjust="spacingAndGlyphs" stroke="#d6d6d6" stroke-width="0.25">1.4800</text>
<text x="1016.4" y="137.2" font-size="11" fill="#d6d6d6" text-anchor="end" font-weight="normal" textLength="34.2" lengthAdjust="spacingAndGlyphs" stroke="#d6d6d6" stroke-width="0.25">1.4600</text>
<text x="1016.4" y="179.6" font-size="11" fill="#d6d6d6" text-anchor="end" font-weight="normal" textLength="34.2" lengthAdjust="spacingAndGlyphs" stroke="#d6d6d6" stroke-width="0.25">1.4400</text>
<text x="1016.4" y="222.4" font-size="11" fill="#d6d6d6" text-anchor="end" font-weight="normal" textLength="34.2" lengthAdjust="spacingAndGlyphs" stroke="#d6d6d6" stroke-width="0.25">1.4200</text>
<text x="1016.4" y="265.3" font-size="11" fill="#d6d6d6" text-anchor="end" font-weight="normal" textLength="34.2" lengthAdjust="spacingAndGlyphs" stroke="#d6d6d6" stroke-width="0.25">1.4000</text>
<text x="1016.4" y="308.2" font-size="11" fill="#d6d6d6" text-anchor="end" font-weight="normal" textLength="34.2" lengthAdjust="spacingAndGlyphs" stroke="#d6d6d6" stroke-width="0.25">1.3800</text>
<text x="1016.4" y="351.0" font-size="11" fill="#d6d6d6" text-anchor="end" font-weight="normal" textLength="34.2" lengthAdjust="spacingAndGlyphs" stroke="#d6d6d6" stroke-width="0.25">1.3600</text>
<text x="1016.4" y="393.9" font-size="11" fill="#d6d6d6" text-anchor="end" font-weight="normal" textLength="34.2" lengthAdjust="spacingAndGlyphs" stroke="#d6d6d6" stroke-width="0.25">1.3400</text>
<path d="M973.4,114.2 H1018.5 Q1021.5,114.2 1021.5,117.2 V127.7 Q1021.5,130.7 1018.5,130.7 H973.4 Z" fill="#ffffff"/><text x="1016.4" y="126.7" font-size="11" fill="#131313" text-anchor="end" font-weight="normal" textLength="34.2" lengthAdjust="spacingAndGlyphs" stroke="#131313" stroke-width="0.25">1.4645</text>
<path d="M973.4,147.2 H1018.5 Q1021.5,147.2 1021.5,150.2 V160.6 Q1021.5,163.6 1018.5,163.6 H973.4 Z" fill="#ffffff"/><text x="1016.4" y="159.7" font-size="11" fill="#131313" text-anchor="end" font-weight="normal" textLength="34.2" lengthAdjust="spacingAndGlyphs" stroke="#131313" stroke-width="0.25">1.4491</text>
<path d="M973.4,197.6 H1018.5 Q1021.5,197.6 1021.5,200.6 V210.7 Q1021.5,213.7 1018.5,213.7 H973.4 Z" fill="#ffffff"/><text x="1016.4" y="209.9" font-size="11" fill="#131313" text-anchor="end" font-weight="normal" textLength="34.2" lengthAdjust="spacingAndGlyphs" stroke="#131313" stroke-width="0.25">1.4255</text>
<path d="M973.4,247.6 H1018.5 Q1021.5,247.6 1021.5,250.6 V261.5 Q1021.5,264.5 1018.5,264.5 H973.4 Z" fill="#66a552"/><text x="1016.4" y="260.3" font-size="11" fill="#ffffff" text-anchor="end" font-weight="normal" textLength="34.2" lengthAdjust="spacingAndGlyphs" stroke="#ffffff" stroke-width="0.25">1.4020</text>
<path d="M973.4,311.6 H1018.5 Q1021.5,311.6 1021.5,314.6 V325.6 Q1021.5,328.6 1018.5,328.6 H973.4 Z" fill="#ffffff"/><text x="1016.4" y="323.9" font-size="11" fill="#131313" text-anchor="end" font-weight="normal" textLength="34.2" lengthAdjust="spacingAndGlyphs" stroke="#131313" stroke-width="0.25">1.3835</text>
<path d="M973.4,328.6 H1018.5 Q1021.5,328.6 1021.5,331.6 V341.8 Q1021.5,344.8 1018.5,344.8 H973.4 Z" fill="#ffffff"/><text x="1016.4" y="340.7" font-size="11" fill="#131313" text-anchor="end" font-weight="normal" textLength="34.2" lengthAdjust="spacingAndGlyphs" stroke="#131313" stroke-width="0.25">1.3675</text>
<path d="M973.4,358.2 H1018.5 Q1021.5,358.2 1021.5,361.2 V371.8 Q1021.5,374.8 1018.5,374.8 H973.4 Z" fill="#ffffff"/><text x="1016.4" y="370.8" font-size="11" fill="#131313" text-anchor="end" font-weight="normal" textLength="34.2" lengthAdjust="spacingAndGlyphs" stroke="#131313" stroke-width="0.25">1.3504</text>
<rect x="973.4" y="328.2" width="48" height="0.6" fill="#d0d0d0"/>
<path d="M926.7,281 H1018.5 Q1021.5,281 1021.5,284 V308.6 Q1021.5,311.6 1018.5,311.6 H973.4 V297.4 H926.7 Q923.7,297.4 923.7,294.4 V284 Q923.7,281 926.7,281 Z" fill="#bd3a2c"/>
<rect x="972.2" y="281" width="1.2" height="16.4" fill="#9a3a30"/>
<text x="1016.4" y="293.8" font-size="11" fill="#ffffff" text-anchor="end" font-weight="normal" textLength="34.2" lengthAdjust="spacingAndGlyphs" stroke="#ffffff" stroke-width="0.25">1.3865</text>
<text x="1008.6" y="307.5" font-size="11" fill="#f2c4bb" text-anchor="end" font-weight="normal" textLength="26.5" lengthAdjust="spacingAndGlyphs" stroke="#f2c4bb" stroke-width="0.25">46:44</text>
<text x="947.9" y="293.2" font-size="11.5" fill="#ffffff" text-anchor="middle" textLength="39" lengthAdjust="spacingAndGlyphs" stroke="#ffffff" stroke-width="0.25">XRPUSD</text>
<text x="1010.6" y="410.1" font-size="11" fill="#d6d6d6" text-anchor="end" font-weight="normal" textLength="28.7" lengthAdjust="spacingAndGlyphs" stroke="#d6d6d6" stroke-width="0.25">80.00</text>
<text x="1010.6" y="447.9" font-size="11" fill="#d6d6d6" text-anchor="end" font-weight="normal" textLength="28.7" lengthAdjust="spacingAndGlyphs" stroke="#d6d6d6" stroke-width="0.25">60.00</text>
<text x="1010.6" y="485.3" font-size="11" fill="#d6d6d6" text-anchor="end" font-weight="normal" textLength="28.7" lengthAdjust="spacingAndGlyphs" stroke="#d6d6d6" stroke-width="0.25">40.00</text>
<text x="-2.1" y="531" font-size="11.5" fill="#d6d6d6" text-anchor="middle" font-weight="normal" textLength="12.2" lengthAdjust="spacingAndGlyphs" stroke="#d6d6d6" stroke-width="0.25">15</text>
<text x="63.3" y="531" font-size="11.5" fill="#d6d6d6" text-anchor="middle" font-weight="normal" textLength="12.2" lengthAdjust="spacingAndGlyphs" stroke="#d6d6d6" stroke-width="0.25">16</text>
<text x="128.7" y="531" font-size="11.5" fill="#d6d6d6" text-anchor="middle" font-weight="normal" textLength="12.2" lengthAdjust="spacingAndGlyphs" stroke="#d6d6d6" stroke-width="0.25">17</text>
<text x="194.1" y="531" font-size="11.5" fill="#d6d6d6" text-anchor="middle" font-weight="normal" textLength="12.2" lengthAdjust="spacingAndGlyphs" stroke="#d6d6d6" stroke-width="0.25">18</text>
<text x="259.6" y="531" font-size="11.5" fill="#d6d6d6" text-anchor="middle" font-weight="normal" textLength="12.2" lengthAdjust="spacingAndGlyphs" stroke="#d6d6d6" stroke-width="0.25">19</text>
<text x="325.0" y="531" font-size="11.5" fill="#d6d6d6" text-anchor="middle" font-weight="bold" textLength="12.2" lengthAdjust="spacingAndGlyphs" stroke="#d6d6d6" stroke-width="0.25">20</text>
<text x="390.4" y="531" font-size="11.5" fill="#d6d6d6" text-anchor="middle" font-weight="normal" textLength="12.2" lengthAdjust="spacingAndGlyphs" stroke="#d6d6d6" stroke-width="0.25">21</text>
<text x="455.8" y="531" font-size="11.5" fill="#d6d6d6" text-anchor="middle" font-weight="normal" textLength="12.2" lengthAdjust="spacingAndGlyphs" stroke="#d6d6d6" stroke-width="0.25">22</text>
<text x="521.2" y="531" font-size="11.5" fill="#d6d6d6" text-anchor="middle" font-weight="normal" textLength="12.2" lengthAdjust="spacingAndGlyphs" stroke="#d6d6d6" stroke-width="0.25">23</text>
<text x="586.7" y="531" font-size="11.5" fill="#d6d6d6" text-anchor="middle" font-weight="normal" textLength="12.2" lengthAdjust="spacingAndGlyphs" stroke="#d6d6d6" stroke-width="0.25">24</text>
<text x="652.1" y="531" font-size="11.5" fill="#d6d6d6" text-anchor="middle" font-weight="normal" textLength="12.2" lengthAdjust="spacingAndGlyphs" stroke="#d6d6d6" stroke-width="0.25">25</text>
<text x="717.5" y="531" font-size="11.5" fill="#d6d6d6" text-anchor="middle" font-weight="normal" textLength="12.2" lengthAdjust="spacingAndGlyphs" stroke="#d6d6d6" stroke-width="0.25">26</text>
<text x="782.9" y="531" font-size="11.5" fill="#d6d6d6" text-anchor="middle" font-weight="bold" textLength="12.2" lengthAdjust="spacingAndGlyphs" stroke="#d6d6d6" stroke-width="0.25">27</text>
<text x="848.3" y="531" font-size="11.5" fill="#d6d6d6" text-anchor="middle" font-weight="normal" textLength="12.2" lengthAdjust="spacingAndGlyphs" stroke="#d6d6d6" stroke-width="0.25">28</text>
<text x="913.8" y="531" font-size="11.5" fill="#d6d6d6" text-anchor="middle" font-weight="normal" textLength="12.2" lengthAdjust="spacingAndGlyphs" stroke="#d6d6d6" stroke-width="0.25">29</text>
<g fill="none" stroke="#cfcfcf" stroke-width="1.1"><path d="M992.6,526.6 L996,520.6 H1003 L1006.4,526.6 L1003,532.6 H996 Z"/><circle cx="999.5" cy="526.6" r="2.3"/></g>
<rect x="977" y="1.6" width="44" height="23.4" rx="4" fill="#141414" stroke="#2c2c2c" stroke-width="1"/>
<text x="980.6" y="17.3" font-size="11.3" fill="#e0e0e0" textLength="19.6" lengthAdjust="spacingAndGlyphs" stroke="#e0e0e0" stroke-width="0.25">USD</text>
<path d="M1012.3,12.2 L1014.5,14.4 L1016.7,12.2" fill="none" stroke="#cfcfcf" stroke-width="1.1"/>
<circle cx="15.4" cy="12.7" r="8.8" fill="#1d1e22"/>
<path d="M11.4,8.4 C13,10.6 14,11.6 15.5,11.6 C17,11.6 18,10.6 19.8,8.4 M11.4,17.4 C13,15.2 14,13.6 15.5,13.6 C17,13.6 18,15.2 19.8,17.4" fill="none" stroke="#e6e6e6" stroke-width="1.3" stroke-linecap="round"/>
<text y="18.9" font-size="16" fill="#dedede" stroke="#dedede" stroke-width="0.25"><tspan x="28.0" textLength="25.8" lengthAdjust="spacingAndGlyphs">XRP</tspan><tspan x="61.0">/</tspan><tspan x="72.8" textLength="27.0" lengthAdjust="spacingAndGlyphs">U.S.</tspan><tspan x="106.5" textLength="41.1" lengthAdjust="spacingAndGlyphs">Dollar</tspan><tspan x="151.6">·</tspan><tspan x="159.8" textLength="16.7" lengthAdjust="spacingAndGlyphs">2h</tspan><tspan x="180.0">·</tspan><tspan x="188.3" textLength="62.3" lengthAdjust="spacingAndGlyphs">Coinbase</tspan></text>
<circle cx="268.1" cy="12.8" r="8.5" fill="#1b2824"/>
<circle cx="268.1" cy="12.8" r="4.4" fill="#6cc3a6"/>
<text x="285.0" y="17.0" font-size="12.5" fill="#d4d4d4" textLength="8.6" lengthAdjust="spacingAndGlyphs" stroke="#d4d4d4" stroke-width="0.25">O</text>
<text x="294.3" y="17.0" font-size="12.5" fill="#e7a47a" textLength="36.3" lengthAdjust="spacingAndGlyphs" stroke="#e7a47a" stroke-width="0.25">1.3871</text>
<text x="338.8" y="17.0" font-size="12.5" fill="#d4d4d4" textLength="8.2" lengthAdjust="spacingAndGlyphs" stroke="#d4d4d4" stroke-width="0.25">H</text>
<text x="348.0" y="17.0" font-size="12.5" fill="#e7a47a" textLength="36.5" lengthAdjust="spacingAndGlyphs" stroke="#e7a47a" stroke-width="0.25">1.3897</text>
<text x="392.2" y="17.0" font-size="12.5" fill="#d4d4d4" textLength="6.6" lengthAdjust="spacingAndGlyphs" stroke="#d4d4d4" stroke-width="0.25">L</text>
<text x="400.0" y="17.0" font-size="12.5" fill="#e7a47a" textLength="36.3" lengthAdjust="spacingAndGlyphs" stroke="#e7a47a" stroke-width="0.25">1.3863</text>
<text x="443.3" y="17.0" font-size="12.5" fill="#d4d4d4" textLength="8.2" lengthAdjust="spacingAndGlyphs" stroke="#d4d4d4" stroke-width="0.25">C</text>
<text x="452.3" y="17.0" font-size="12.5" fill="#e7a47a" textLength="36.3" lengthAdjust="spacingAndGlyphs" stroke="#e7a47a" stroke-width="0.25">1.3865</text>
<text x="496.4" y="17.0" font-size="12.5" fill="#e7a47a" textLength="43.6" lengthAdjust="spacingAndGlyphs" stroke="#e7a47a" stroke-width="0.25">−0.0009</text>
<text x="545.5" y="17.0" font-size="12.5" fill="#e7a47a" textLength="46.1" lengthAdjust="spacingAndGlyphs" stroke="#e7a47a" stroke-width="0.25">(−0.06%)</text>
<text x="599.0" y="17.0" font-size="12.5" fill="#e7a47a" textLength="43.4" lengthAdjust="spacingAndGlyphs" stroke="#e7a47a" stroke-width="0.25">−0.0141</text>
<text x="647.8" y="17.0" font-size="12.5" fill="#e7a47a" textLength="47.7" lengthAdjust="spacingAndGlyphs" stroke="#e7a47a" stroke-width="0.25">(−1.01%)</text>
<rect x="7.5" y="28.5" width="59" height="33" rx="6" fill="#121212" stroke="#b7383c" stroke-width="1"/>
<text x="37.7" y="41.8" font-size="11.5" fill="#e2484d" text-anchor="middle" textLength="36.8" lengthAdjust="spacingAndGlyphs" stroke="#e2484d" stroke-width="0.25">1.3864</text>
<text x="35.9" y="55.9" font-size="11.5" fill="#d9464b" text-anchor="middle" textLength="21.4" lengthAdjust="spacingAndGlyphs" stroke="#d9464b" stroke-width="0.25">SELL</text>
<text x="74.8" y="48.4" font-size="10" fill="#d6d6d6" textLength="27.9" lengthAdjust="spacingAndGlyphs" stroke="#d6d6d6" stroke-width="0.25">0.0001</text>
<rect x="112.5" y="28.5" width="59" height="33" rx="6" fill="#121212" stroke="#3552d8" stroke-width="1"/>
<text x="142.4" y="42.1" font-size="11.5" fill="#5b7cf7" text-anchor="middle" textLength="37.2" lengthAdjust="spacingAndGlyphs" stroke="#5b7cf7" stroke-width="0.25">1.3865</text>
<text x="141.7" y="55.6" font-size="11.5" fill="#5476f2" text-anchor="middle" textLength="19.3" lengthAdjust="spacingAndGlyphs" stroke="#5476f2" stroke-width="0.25">BUY</text>
<rect x="7.5" y="69.5" width="30" height="19" rx="3.5" fill="#0a0a0a" stroke="#2e2e2e" stroke-width="1"/>
<path d="M13.3,77.6 L17,81 L20.7,77.6" fill="none" stroke="#d6d6d6" stroke-width="1.2"/>
<text x="26.6" y="83.3" font-size="12.5" fill="#d6d6d6" textLength="6" lengthAdjust="spacingAndGlyphs" stroke="#d6d6d6" stroke-width="0.25">3</text>
</svg></body></html>
